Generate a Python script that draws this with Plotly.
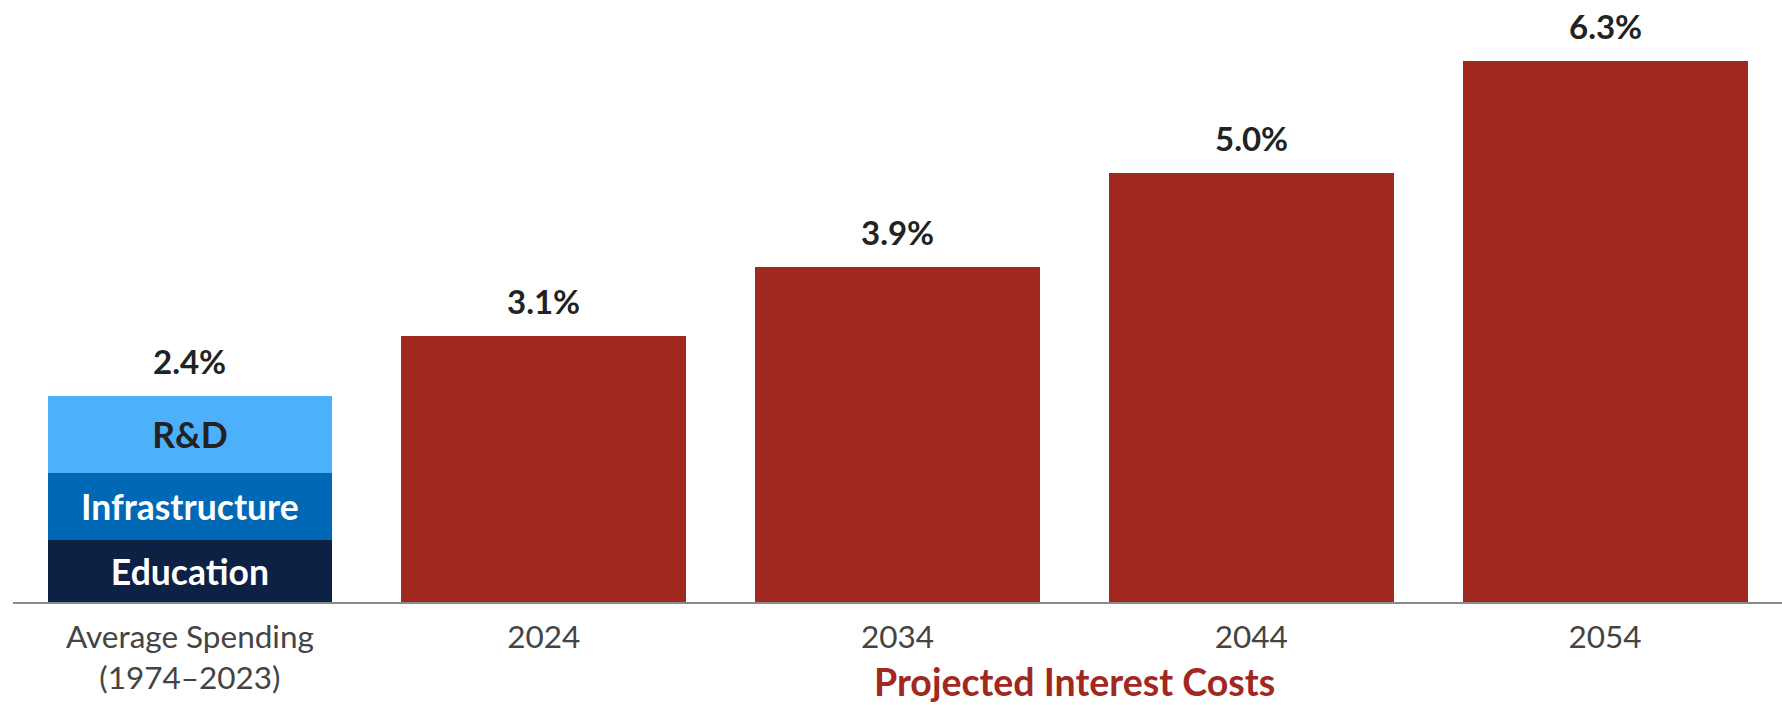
import plotly.graph_objects as go

categories = ["Average Spending<br>(1974–2023)", "2024", "2034", "2044", "2054"]
segment_names = ["Education", "Infrastructure", "R&D"]
segment_values = [0.72, 0.78, 0.90]
segment_colors = ["#0d2145", "#0068b5", "#4cb0fa"]
segment_text_colors = ["#ffffff", "#ffffff", "#222222"]
interest_years = ["2024", "2034", "2044", "2054"]
interest_values = [3.1, 3.9, 5.0, 6.3]
total_labels = ["2.4%", "3.1%", "3.9%", "5.0%", "6.3%"]
total_values = [2.4, 3.1, 3.9, 5.0, 6.3]

RED = "#a0281f"
FONT = "Lato"

fig = go.Figure()
for name, val, col, tcol in zip(segment_names, segment_values, segment_colors, segment_text_colors):
    fig.add_trace(go.Bar(
        x=[categories[0]], y=[val], name=name,
        marker=dict(color=col, line=dict(width=0)),
        text=[f"<b>{name}</b>"], textposition="inside", insidetextanchor="middle",
        textfont=dict(family=FONT, size=35.5, color=tcol),
        textangle=0, cliponaxis=False,
    ))

fig.add_trace(go.Bar(
    x=interest_years, y=interest_values, name="Projected Interest Costs",
    marker=dict(color=RED, line=dict(width=0)),
))

for i, (v, lab) in enumerate(zip(total_values, total_labels)):
    fig.add_annotation(
        x=i, y=v, xref="x", yref="y", text=f"<b>{lab}</b>",
        showarrow=False, yanchor="middle", yshift=35,
        font=dict(family=FONT, size=33, color="#222222"),
    )

fig.add_annotation(
    x=2.5, y=-0.1335, xref="x", yref="paper",
    text="<b>Projected Interest Costs</b>", showarrow=False,
    yanchor="middle", xanchor="center", borderpad=0,
    font=dict(family=FONT, size=37.5, color=RED),
)

fig.update_layout(
    width=1782, height=705,
    margin=dict(l=13, r=0, t=8, b=103),
    barmode="stack", bargap=0.195,
    showlegend=False,
    plot_bgcolor="white", paper_bgcolor="white",
    font=dict(family=FONT),
    uniformtext=dict(minsize=30, mode="show"),
)
fig.update_xaxes(
    type="category", categoryorder="array", categoryarray=categories,
    showline=True, linecolor="#8a8a8a", linewidth=2,
    showgrid=False, ticks="", ticklabelstandoff=6,
    tickfont=dict(family=FONT, size=31.5, color="#444444"),
    range=[-0.5, 4.5], automargin=False,
)
fig.update_yaxes(visible=False, range=[0, 6.923], showgrid=False, zeroline=False)

fig.write_html("out.html", config={"displayModeBar": False},
               post_script="document.body.style.margin='0';")
